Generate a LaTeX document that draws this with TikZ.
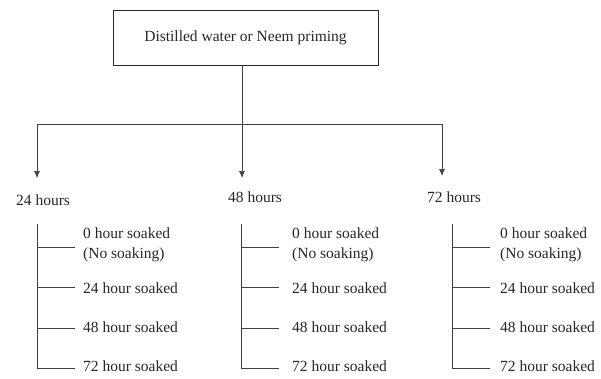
\documentclass[tikz,border=0pt]{standalone}
\usepackage{fontspec}
\setmainfont{Liberation Serif}
\usetikzlibrary{positioning,arrows.meta}

\begin{document}
\begin{tikzpicture}[x=1pt,y=-1pt,
	conn/.style={draw=black!75,line width=0.7pt},
	lbl/.style={font=\rmfamily\fontsize{15.5}{20}\selectfont,text=black!85,inner sep=0pt}]
	\useasboundingbox (0,0) rectangle (601,378);
	\node[lbl,draw=black!85,line width=0.8pt,minimum width=265pt,minimum height=55pt] (prim) at (245.5,37.5) {Distilled water or Neem priming};
	\coordinate (split) at (242,124);
	\coordinate (left) at (37,124);
	\coordinate (right) at (442,124);
	\draw[conn] (prim.south -| split) -- (split);
	\draw[conn] (left) -- (right);
	\coordinate (a24) at (37,178);
	\coordinate (a48) at (242,178);
	\coordinate (a72) at (442,176);
	\draw[conn,-{Latex[length=7pt,width=6pt]}] (left) -- (a24);
	\draw[conn,-{Latex[length=7pt,width=6pt]}] (split) -- (a48);
	\draw[conn,-{Latex[length=7pt,width=6pt]}] (right) -- (a72);
	\node[lbl,anchor=west] (h24) at (16,200) {24 hours};
	\node[lbl,anchor=west] (h48) at (228,197) {48 hours};
	\node[lbl,anchor=west] (h72) at (427,197) {72 hours};
	\foreach \g/\x/\tx in {24/37/83,48/241/292,72/452/500}{
		\draw[conn] (\x,224) -- (\x,368);
		\foreach \y in {247,287,328,368}
		\draw[conn] (\x,\y) -- (\x+38,\y);
		\node[lbl,anchor=west,align=left] (s\g-0) at (\tx,245) {0 hour soaked\\(No soaking)};
		\node[lbl,anchor=west] (s\g-24) at (\tx,288) {24 hour soaked};
		\node[lbl,anchor=west] (s\g-48) at (\tx,327) {48 hour soaked};
		\node[lbl,anchor=west] (s\g-72) at (\tx,366) {72 hour soaked};
	}
\end{tikzpicture}
\end{document}
